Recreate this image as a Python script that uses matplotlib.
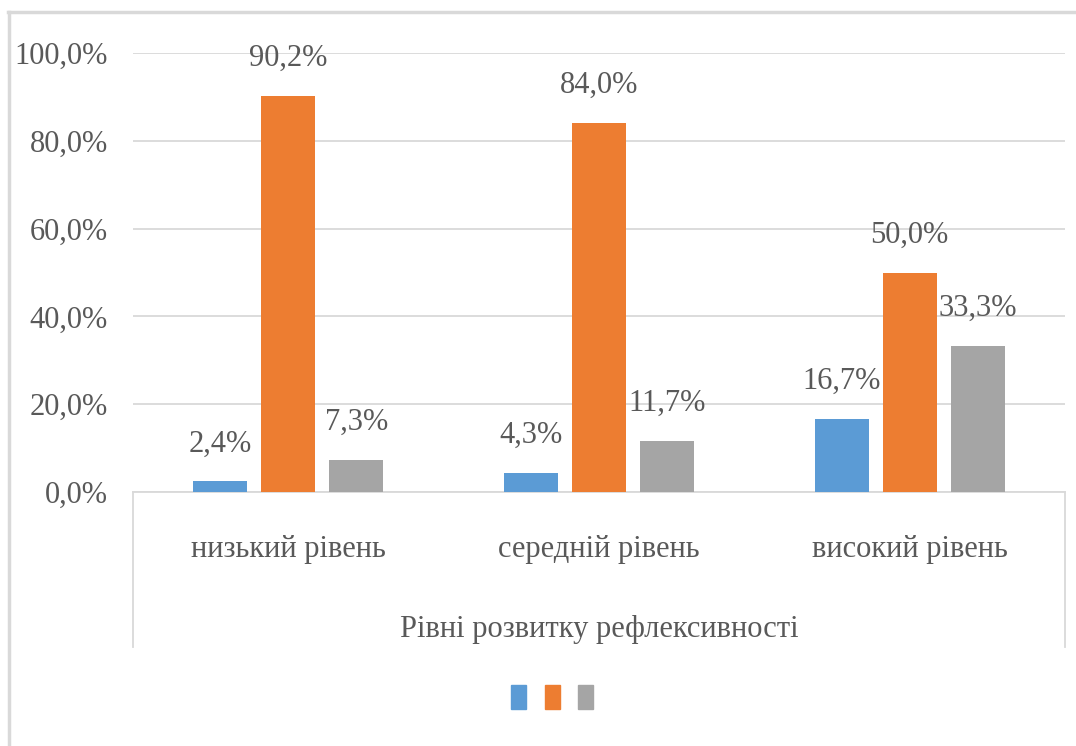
import matplotlib
matplotlib.use('Agg')
import matplotlib.pyplot as plt
from matplotlib.lines import Line2D
from matplotlib.patches import Patch
import numpy as np

plt.rcParams['font.family'] = ['Liberation Serif', 'DejaVu Serif']

categories = ['низький рівень', 'середній рівень', 'високий рівень']
series_names = ['', '', '']
low_vals = [2.4, 4.3, 16.7]
mid_vals = [90.2, 84.0, 50.0]
high_vals = [7.3, 11.7, 33.3]
yticks = [0, 20, 40, 60, 80, 100]
x_title = 'Рівні розвитку рефлексивності'

colors = ['#5B9BD5', '#ED7D31', '#A5A5A5']
txt = '#595959'
grid = '#D9D9D9'
fs = 22

fig = plt.figure(figsize=(10.76, 7.46), dpi=100)
ax = fig.add_axes([133 / 1076, 1 - 492 / 746, 932 / 1076, 439 / 746])

x = np.arange(len(categories))
w = 0.174
step = 0.219
for i, (vals, c) in enumerate(zip([low_vals, mid_vals, high_vals], colors)):
    xs = x + (i - 1) * step
    ax.bar(xs, vals, width=w, color=c, zorder=3, label=series_names[i])
    for xi, v in zip(xs, vals):
        ax.annotate(f'{v:.1f}%'.replace('.', ','), (xi, v), xytext=(0, 27),
                    textcoords='offset points', ha='center', va='center',
                    fontsize=fs, color=txt, zorder=4)

ax.set_xlim(-0.5, 2.5)
ax.set_ylim(0, 100)
ax.set_yticks(yticks)
ax.set_yticklabels([f'{t:.1f}%'.replace('.', ',') for t in yticks])
ax.set_xticks(x)
ax.set_xticklabels(categories)
ax.tick_params(axis='both', length=0, labelsize=fs, labelcolor=txt)
ax.tick_params(axis='y', pad=18)
ax.tick_params(axis='x', pad=31)
ax.grid(axis='y', color=grid, lw=1.3, zorder=0)
for s in ['top', 'right', 'left']:
    ax.spines[s].set_visible(False)
ax.spines['bottom'].set_color(grid)
ax.spines['bottom'].set_linewidth(1.3)

ax.set_xlabel(x_title, fontsize=fs, color=txt, va='center')
ax.xaxis.set_label_coords(0.5, -(629 - 492) / 439)

# category box sides
box_h = -(647 - 492) / 439
for xa in [0, 1]:
    ax.plot([xa, xa], [0, box_h], transform=ax.transAxes, color=grid,
            lw=1.3, clip_on=False)

# outer chart border (top and left visible)
fig.add_artist(Line2D([8 / 1076, 1], [1 - 12 / 746] * 2, color=grid, lw=2.5))
fig.add_artist(Line2D([9 / 1076] * 2, [0, 1 - 12 / 746], color=grid, lw=2.5))

handles = [Patch(color=c) for c in colors]
fig.legend(handles, series_names, loc='center', bbox_to_anchor=(552 / 1076, 1 - 697 / 746),
           ncol=3, frameon=False, fontsize=10, handlelength=1.08, handleheight=2.3,
           handletextpad=0, columnspacing=1.3)

fig.savefig('out.png', dpi=100)
